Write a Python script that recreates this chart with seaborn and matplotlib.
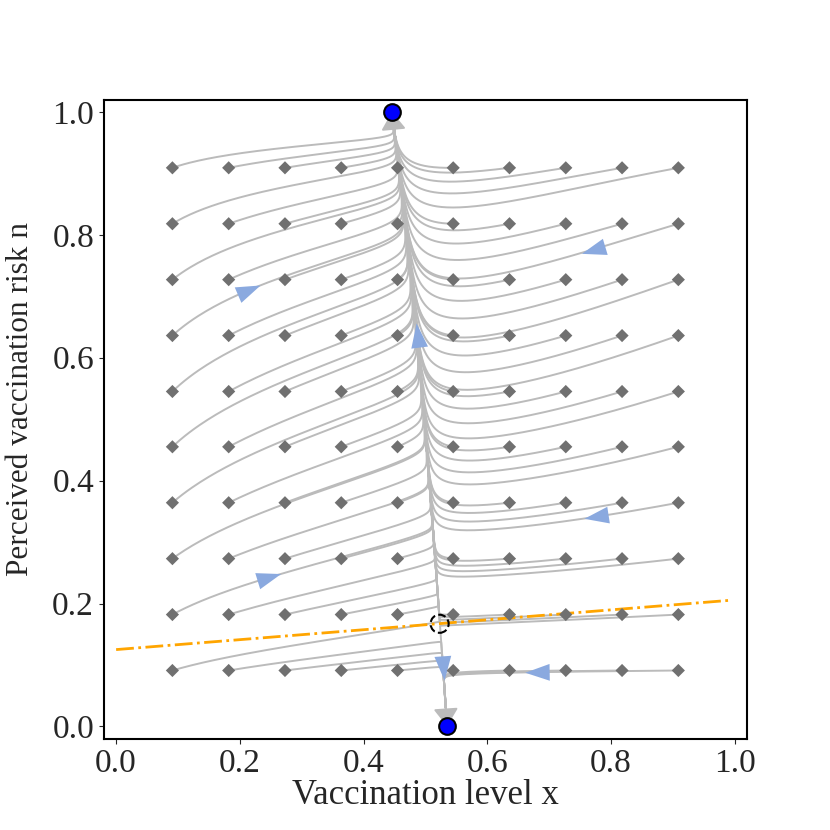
import numpy as np
import pandas as pd
import matplotlib
matplotlib.use("Agg")
import matplotlib.pyplot as plt
import seaborn as sns
from matplotlib.markers import MarkerStyle
from matplotlib.path import Path
from matplotlib.transforms import Affine2D

# grid of starting points (vaccination level x, perceived risk n)
start_x = [0.091, 0.182, 0.273, 0.364, 0.455, 0.545, 0.636, 0.727, 0.818, 0.909]
start_n = [0.091, 0.182, 0.273, 0.364, 0.455, 0.545, 0.636, 0.727, 0.818, 0.909]

# equilibria
stable_x = [0.446, 0.535]
stable_n = [1.0, 0.0]
saddle_x = [0.523]
saddle_n = [0.167]

# threshold line (orange, dash-dot)
line_x = [0.0, 0.99]
line_n = [0.125, 0.205]

# where the blue direction arrows sit
arrow_x = [0.208, 0.782, 0.488, 0.782, 0.241, 0.527, 0.685]
arrow_n = [0.713, 0.763, 0.632, 0.326, 0.245, 0.100, 0.083]

# model parameters: fast x, slow n
m0, m1, m2 = 0.535, 0.065, 0.025      # x-nullcline x*(n) = m0 - m1 n - m2 n^2
eps = 0.086
beta_left, gamma_left = 3.5, 0.25
beta_right, gamma_right = (9.7, -0.8), 0.9   # beta = 9.7 n - 0.8 right of x*
c1 = (line_n[1] - line_n[0]) / (line_x[1] - line_x[0])
c0 = line_n[0]


def field(x, n):
    xs = m0 - m1 * n - m2 * n ** 2
    right = x > xs
    rate = np.where(right, xs * (1 - xs), x * (1 - x))
    dx = rate * (xs - x)
    b = np.where(right, np.maximum(beta_right[0] * n + beta_right[1], 0), beta_left)
    g = np.where(right, gamma_right, gamma_left)
    dn = eps * n * (1 - n) * (g * (n - (c0 + c1 * x)) - b * (x - xs))
    return dx, dn


# integrate all trajectories at once (RK4)
gx, gn = np.meshgrid(start_x, start_n)
x = gx.ravel().astype(float)
n = gn.ravel().astype(float)
dt = 0.05
steps = 40000
xs_hist = [x.copy()]
ns_hist = [n.copy()]
for k in range(steps):
    k1x, k1n = field(x, n)
    k2x, k2n = field(x + dt / 2 * k1x, n + dt / 2 * k1n)
    k3x, k3n = field(x + dt / 2 * k2x, n + dt / 2 * k2n)
    k4x, k4n = field(x + dt * k3x, n + dt * k3n)
    x = x + dt / 6 * (k1x + 2 * k2x + 2 * k3x + k4x)
    n = n + dt / 6 * (k1n + 2 * k2n + 2 * k3n + k4n)
    if k % 2 == 0:
        xs_hist.append(x.copy())
        ns_hist.append(n.copy())
X = np.array(xs_hist)
N = np.array(ns_hist)

frames = []
for j in range(X.shape[1]):
    tx, tn = X[:, j], N[:, j]
    stop = np.where((tn > 0.975) | (tn < 0.03))[0]
    end = stop[0] if len(stop) else len(tx)
    tx, tn = tx[:end], tn[:end]
    frames.append(pd.DataFrame({"x": tx, "n": tn, "traj": j}))
traj = pd.concat(frames, ignore_index=True)

sns.set_style("ticks")
plt.rcParams["font.family"] = ["Liberation Serif", "DejaVu Serif"]

fig, ax = plt.subplots(figsize=(8.3, 8.3), dpi=100)
ax.set_xlim(-0.02, 1.02)
ax.set_ylim(-0.02, 1.02)

sns.lineplot(data=traj, x="x", y="n", units="traj", estimator=None, sort=False,
             color="#bbbbbb", linewidth=1.4, ax=ax, zorder=2)

# grey arrows into the stable points
for sx, sn_ in zip(stable_x, stable_n):
    tail_n = 0.96 if sn_ > 0.5 else 0.05
    tail_x = m0 - m1 * tail_n - m2 * tail_n ** 2
    ax.annotate("", xy=(sx, sn_), xytext=(tail_x, tail_n),
                arrowprops=dict(arrowstyle="-|>,head_length=0.55,head_width=0.38",
                                color="#bbbbbb", lw=1.4, shrinkA=0, shrinkB=0,
                                mutation_scale=20), zorder=3)

# blue direction arrowheads, placed on the nearest trajectory, oriented with the flow
head = Path([(1.0, 0.0), (-0.6, 0.55), (-0.6, -0.55), (1.0, 0.0)],
            [Path.MOVETO, Path.LINETO, Path.LINETO, Path.CLOSEPOLY])
px = traj["x"].to_numpy()
pn = traj["n"].to_numpy()
for axp, anp in zip(arrow_x, arrow_n):
    i = np.argmin((px - axp) ** 2 + (pn - anp) ** 2)
    vx, vn = field(np.array([px[i]]), np.array([pn[i]]))
    step = 1e-3 / np.hypot(vx[0], vn[0])
    p0 = ax.transData.transform((px[i], pn[i]))
    p1 = ax.transData.transform((px[i] + vx[0] * step, pn[i] + vn[0] * step))
    ang = np.degrees(np.arctan2(p1[1] - p0[1], p1[0] - p0[0]))
    mk = MarkerStyle(head, transform=Affine2D().rotate_deg(ang))
    ax.plot(px[i], pn[i], marker=mk, markersize=22, color="#8aa9df",
            markeredgecolor="none", linestyle="none", zorder=4)

# start markers
sns.scatterplot(x=gx.ravel(), y=gn.ravel(), marker="D", color="#707070",
                s=45, edgecolor="none", ax=ax, zorder=5)

ax.plot(line_x, line_n, linestyle="-.", color="orange", linewidth=2, zorder=4)

ax.scatter(saddle_x, saddle_n, s=170, facecolors="none", edgecolors="black",
           linestyles="--", linewidths=1.5, zorder=6)
ax.plot(stable_x, stable_n, "o", color="blue", markeredgecolor="black",
        markersize=12, markeredgewidth=1.5, linestyle="none", zorder=6)

ax.set_xlim(-0.02, 1.02)
ax.set_ylim(-0.02, 1.02)
ax.set_xticks(np.arange(0, 1.01, 0.2))
ax.set_yticks(np.arange(0, 1.01, 0.2))
ax.tick_params(labelsize=24, length=3.5, width=0.8)
ax.set_xlabel("Vaccination level x", fontsize=25, labelpad=0)
ax.set_ylabel("Perceived vaccination risk n", fontsize=22.5)
ax.yaxis.set_label_coords(-0.107, 0.532)
for s in ax.spines.values():
    s.set_linewidth(1.5)
    s.set_color("black")

fig.savefig("out.png", dpi=100)
